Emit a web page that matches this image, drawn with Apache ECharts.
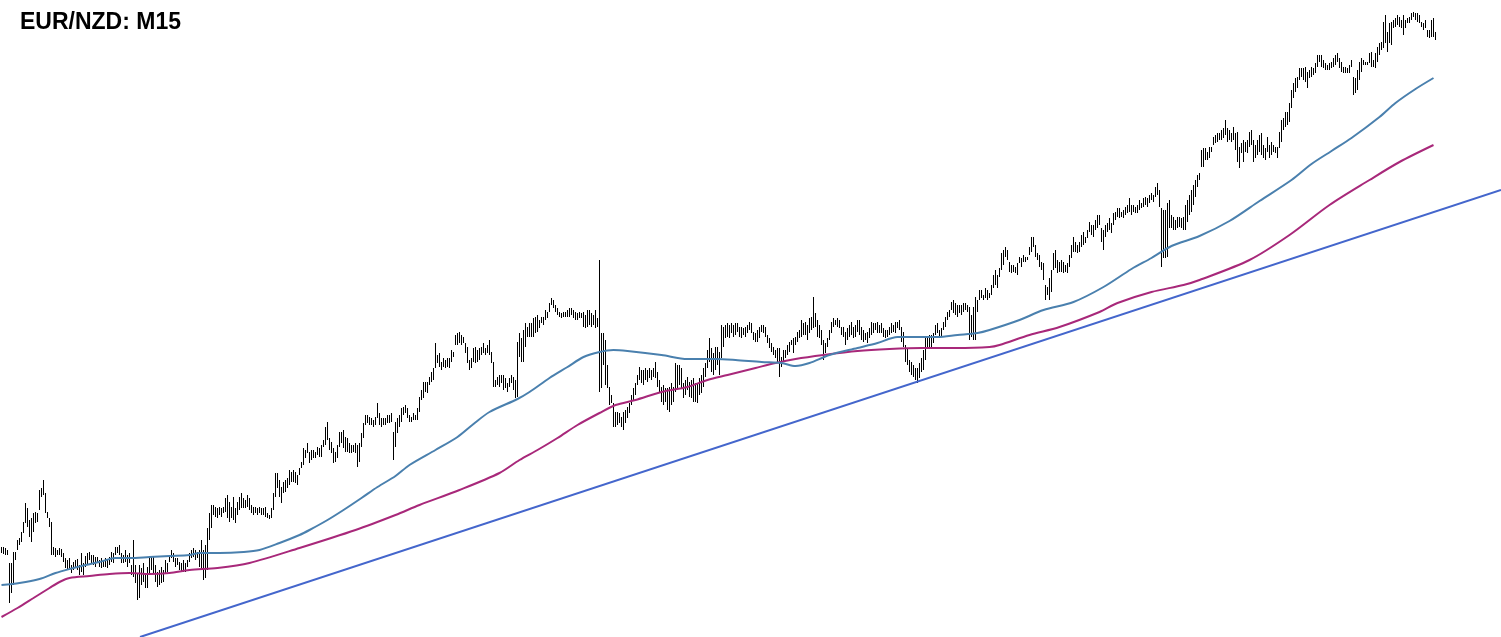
<!DOCTYPE html>
<html><head><meta charset="utf-8">
<script src="https://cdn.jsdelivr.net/npm/echarts@6/dist/echarts.min.js"></script>
<style>html,body{margin:0;padding:0;background:#fff;overflow:hidden}#c{width:1501px;height:637px}</style>
</head><body><div id="c"></div>
<script>
const chartTitle = 'EUR/NZD: M15';
const BASE_PRICE = 1.6400;          // price at the bottom edge
const PIP = 0.0001;
const VIEW_PIPS = 637;              // visible price range, pips
// M15 bars: [high, low] in pips above BASE_PRICE, oldest first
const barRanges = [
[90,84],[90,83],[89,82],[87,82],[74,34],[74,44],[85,52],[85,77],[97,87],[99,92],
[105,95],[115,104],[134,114],[129,110],[117,100],[119,95],[124,105],[125,114],[124,115],[147,127],
[149,140],[157,142],[144,124],[125,119],[119,110],[115,82],[90,82],[89,80],[87,82],[89,82],
[88,80],[84,75],[79,69],[77,67],[79,69],[72,64],[75,67],[77,69],[78,67],[72,62],
[84,65],[74,62],[81,70],[84,72],[85,77],[82,74],[82,72],[80,70],[80,74],[77,70],
[79,69],[77,70],[79,70],[77,69],[80,72],[85,75],[84,74],[90,82],[90,84],[92,82],
[84,74],[82,74],[87,75],[82,70],[84,74],[72,62],[97,60],[72,54],[64,37],[72,39],
[69,52],[74,55],[64,49],[70,49],[79,64],[80,67],[80,64],[72,55],[65,50],[67,52],
[70,54],[67,55],[77,64],[74,65],[82,75],[87,79],[84,75],[79,70],[79,72],[75,67],
[74,65],[77,65],[74,65],[77,70],[84,75],[87,79],[89,80],[87,77],[85,79],[87,70],
[97,67],[87,57],[92,59],[109,67],[124,97],[132,109],[132,122],[130,120],[129,119],[130,122],
[129,120],[130,124],[139,125],[142,119],[135,115],[130,119],[140,117],[129,114],[135,122],[140,127],
[144,129],[139,129],[137,129],[142,130],[139,127],[132,124],[130,122],[130,124],[129,122],[130,124],
[129,122],[129,122],[130,120],[124,119],[122,118],[129,119],[144,127],[164,140],[164,149],[157,140],
[150,134],[155,144],[157,145],[159,149],[167,152],[165,155],[167,155],[165,154],[162,152],[169,162],
[175,169],[189,172],[187,179],[194,184],[185,174],[187,177],[187,179],[185,179],[190,182],[189,180],
[192,180],[197,190],[210,192],[215,197],[199,187],[195,184],[189,174],[185,175],[192,179],[205,190],
[205,194],[207,189],[200,185],[199,185],[194,184],[192,184],[192,185],[194,184],[192,170],[194,175],
[204,190],[214,199],[222,212],[222,214],[220,212],[219,212],[217,210],[220,212],[234,219],[224,212],
[219,210],[219,212],[219,212],[222,214],[222,214],[224,215],[205,177],[215,190],[219,204],[222,210],
[229,215],[230,222],[232,224],[229,219],[222,215],[220,215],[224,217],[222,217],[229,217],[240,225],
[247,237],[255,239],[255,245],[255,244],[260,252],[265,255],[269,257],[294,269],[282,274],[284,270],
[275,267],[279,270],[277,269],[279,270],[279,269],[287,275],[285,280],[302,292],[304,292],[305,294],
[302,292],[300,294],[294,284],[290,274],[277,267],[279,269],[289,275],[290,274],[287,275],[289,277],
[290,282],[294,284],[289,282],[292,284],[297,282],[285,274],[275,250],[257,250],[260,252],[262,250],
[262,254],[262,247],[259,249],[254,245],[259,250],[262,254],[260,247],[257,239],[295,240],[304,280],
[299,275],[307,275],[314,290],[310,300],[314,300],[314,300],[319,300],[320,304],[322,305],[317,309],
[320,314],[320,312],[327,317],[325,319],[334,325],[339,332],[337,329],[332,325],[329,322],[325,320],
[324,319],[325,320],[325,320],[327,320],[329,320],[329,322],[327,319],[325,317],[324,317],[325,319],
[324,319],[325,310],[322,309],[327,310],[327,312],[324,310],[322,312],[327,309],[319,310],[377,245],
[304,249],[304,272],[297,252],[272,249],[250,232],[242,234],[234,210],[225,210],[225,212],[224,214],
[220,210],[225,207],[227,214],[230,219],[234,224],[242,232],[249,237],[254,242],[262,252],[270,257],
[267,254],[267,252],[269,257],[267,255],[269,259],[267,257],[269,260],[275,259],[265,250],[257,245],
[250,235],[252,232],[249,235],[249,227],[250,225],[254,232],[250,235],[274,245],[272,249],[272,252],
[269,249],[254,239],[257,242],[260,247],[255,240],[257,239],[259,235],[254,235],[254,234],[259,242],
[262,244],[269,250],[274,260],[287,269],[299,275],[289,265],[284,262],[290,267],[290,272],[285,262],
[312,279],[310,290],[312,299],[314,300],[312,299],[314,304],[312,300],[314,302],[314,305],[310,300],
[310,299],[309,302],[310,300],[312,304],[315,307],[314,304],[305,297],[304,295],[307,295],[310,299],
[312,305],[312,304],[310,300],[302,294],[299,289],[294,285],[290,282],[287,279],[289,275],[289,260],
[280,270],[287,275],[287,279],[292,282],[295,285],[297,292],[299,284],[300,292],[305,295],[307,299],
[317,300],[314,302],[315,302],[312,297],[319,304],[320,307],[340,309],[324,310],[317,300],[312,299],
[307,292],[297,277],[294,284],[299,290],[307,297],[315,304],[319,310],[317,312],[319,310],[317,309],
[310,302],[310,300],[305,292],[309,297],[312,300],[315,302],[310,299],[312,300],[317,305],[317,302],
[310,297],[307,295],[304,297],[305,294],[309,299],[315,302],[314,304],[314,307],[315,304],[312,304],
[314,304],[309,300],[307,299],[307,300],[310,302],[314,304],[312,305],[315,304],[315,309],[317,307],
[310,295],[305,290],[292,275],[289,272],[277,265],[275,262],[272,260],[269,257],[269,254],[274,259],
[279,265],[287,267],[300,277],[300,289],[302,289],[302,290],[304,294],[312,302],[314,304],[307,299],
[309,300],[315,307],[320,310],[325,317],[327,320],[335,327],[337,324],[334,322],[332,320],[332,324],
[332,322],[334,325],[334,327],[332,325],[330,297],[322,300],[330,297],[340,297],[337,325],[347,337],
[347,339],[342,337],[349,339],[347,337],[344,339],[352,342],[362,349],[367,352],[362,349],[369,360],
[384,367],[387,372],[390,380],[387,377],[375,365],[372,364],[372,365],[370,364],[374,362],[380,374],
[379,370],[382,375],[380,375],[380,377],[390,382],[400,385],[400,390],[392,380],[384,377],[382,370],
[375,367],[374,357],[352,337],[350,342],[359,337],[367,345],[384,367],[387,369],[377,364],[375,365],
[377,365],[375,364],[372,365],[374,364],[382,370],[392,379],[400,385],[395,385],[392,384],[395,385],
[402,390],[405,392],[400,394],[407,399],[415,405],[412,402],[412,400],[417,407],[422,409],[422,412],
[409,395],[407,387],[412,400],[414,405],[419,407],[414,404],[424,412],[425,417],[429,420],[429,419],
[425,420],[427,419],[430,422],[432,424],[439,425],[432,422],[432,425],[430,424],[432,424],[437,427],
[434,429],[439,430],[440,432],[439,430],[442,434],[444,437],[442,435],[450,440],[454,442],[447,430],
[429,370],[427,379],[427,379],[434,380],[437,409],[422,409],[420,407],[417,407],[420,409],[420,410],
[419,409],[420,407],[432,407],[437,415],[442,422],[447,425],[452,432],[457,440],[462,450],[464,457],
[487,470],[489,470],[489,477],[485,477],[490,479],[490,485],[500,492],[502,494],[504,495],[504,497],
[507,497],[509,499],[517,502],[509,495],[507,497],[504,495],[510,497],[504,487],[505,475],[490,469],
[494,484],[497,475],[495,485],[497,484],[505,490],[507,492],[497,475],[492,479],[497,482],[502,485],
[504,482],[492,479],[489,477],[500,485],[492,479],[495,482],[492,485],[490,484],[490,479],[505,489],
[517,495],[519,507],[525,510],[525,512],[534,515],[547,529],[554,539],[559,545],[560,549],[569,557],
[569,560],[569,557],[570,555],[565,549],[567,559],[570,560],[569,562],[574,564],[582,570],[582,575],
[582,570],[577,569],[574,567],[572,567],[574,567],[575,569],[579,570],[582,572],[584,575],[579,569],
[575,565],[570,564],[570,564],[569,564],[572,564],[577,570],[560,542],[559,544],[567,547],[575,557],
[579,565],[577,572],[575,572],[575,572],[584,574],[585,570],[577,570],[584,569],[590,575],[594,582],
[595,587],[615,589],[622,594],[605,585],[614,594],[615,592],[617,609],[619,610],[622,612],[620,610],
[617,609],[622,602],[617,609],[619,614],[620,614],[624,617],[625,620],[624,617],[624,615],[622,614],
[615,610],[614,607],[617,609],[607,600],[607,599],[617,600],[619,600],[605,597]
];
// Fast moving average: [bar index, pips]
const maFast = [
[0,52],[9,54],[19,58],[27,64],[34,68],[42,72],[49,75],[57,79],[64,79],[74,80],[84,81],[94,82],
[99,84],[109,84],[121,85],[129,87],[139,94],[149,102],[154,107],[163,117],[171,127],[180,139],[188,150],
[197,161],[204,172],[217,187],[228,200],[236,213],[244,225],[258,238],[264,245],[274,259],
[283,270],[291,280],[299,285],[306,287],[313,286],[330,282],[343,278],[357,278],[367,277],[380,275],
[390,274],[397,271],[404,274],[414,282],[428,289],[438,294],[448,300],[458,300],[468,300],[478,302],
[488,304],[494,307],[509,317],[521,327],[536,335],[551,350],[565,368],[575,379],[585,391],[599,401],
[614,416],[629,436],[645,457],[655,473],[665,486],[675,499],[689,520],[697,534],
[707,548],[716,559]
];
// Slow moving average: [bar index, pips]
const maSlow = [
[0,20],[8,29],[16,39],[24,49],[29,55],[34,59],[44,61],[54,63],[64,64],[74,63],[84,64],[94,67],[108,69],
[124,74],[149,89],[177,107],[197,122],[209,132],[229,147],[249,164],[259,177],[268,187],[278,199],
[288,212],[299,224],[307,232],[317,237],[330,245],[343,250],[353,257],[363,262],[377,269],[387,274],
[397,278],[411,282],[428,286],[444,288],[460,289],[477,289],[494,290],[499,292],[514,302],[529,310],
[549,325],[558,334],[575,345],[591,352],[599,357],[624,377],[644,402],[664,432],[684,457],[699,475],
[716,492]
];
// Support trendline: [bar index, pips]
const trendline = [[69.25, 0], [749.75, 447]];

const toPrice = p => +(BASE_PRICE + p * PIP).toFixed(5);
const barData = barRanges.map((r, i) => [i, toPrice(r[0]), toPrice(r[1])]);
const fastData = maFast.map(d => [d[0], toPrice(d[1])]);
const slowData = maSlow.map(d => [d[0], toPrice(d[1])]);
const trendData = trendline.map(d => [d[0], toPrice(d[1])]);

const chart = echarts.init(document.getElementById('c'), null, {renderer: 'canvas'});
chart.setOption({
  animation: false,
  backgroundColor: '#ffffff',
  title: {
    text: chartTitle, left: 20, top: 11, padding: 0,
    textStyle: {fontFamily: 'Liberation Sans, Arial, sans-serif', fontSize: 23, fontWeight: 'bold', color: '#000'}
  },
  grid: {left: 0, right: 0, top: 0, bottom: 0, containLabel: false},
  xAxis: {type: 'value', min: -0.75, max: 749.75, show: false, splitLine: {show: false}},
  yAxis: {type: 'value', min: BASE_PRICE, max: toPrice(VIEW_PIPS), show: false, splitLine: {show: false}},
  series: [
    {
      type: 'custom', clip: true, z: 2,
      encode: {x: 0, y: [1, 2]},
      data: barData,
      renderItem: function (params, api) {
        const i = api.value(0);
        const hi = api.coord([i, api.value(1)]);
        const lo = api.coord([i, api.value(2)]);
        return {type: 'line', shape: {x1: hi[0], y1: hi[1], x2: lo[0], y2: lo[1]},
                style: {stroke: '#000000', lineWidth: 1}};
      }
    },
    {type: 'line', data: slowData, symbol: 'none', smooth: 0.3, z: 3,
     lineStyle: {color: '#A8287A', width: 2}},
    {type: 'line', data: fastData, symbol: 'none', smooth: 0.3, z: 4,
     lineStyle: {color: '#4A80AE', width: 2}},
    {type: 'line', data: trendData, symbol: 'none', z: 5,
     lineStyle: {color: '#4466CC', width: 2}}
  ]
});
</script>
</body></html>
